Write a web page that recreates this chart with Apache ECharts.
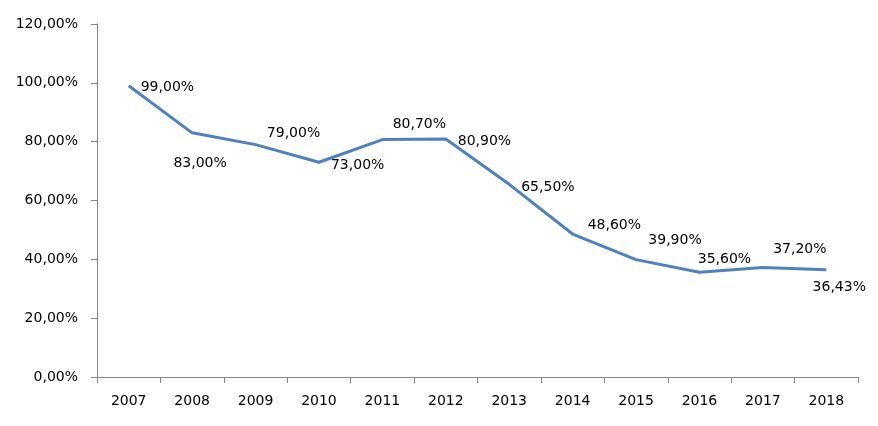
<!DOCTYPE html>
<html><head><meta charset="utf-8">
<script src="https://cdn.jsdelivr.net/npm/echarts@6/dist/echarts.min.js"></script>
<style>html,body{margin:0;padding:0;background:#fff}#c{width:878px;height:426px}</style>
</head><body><div id="c"></div>
<script>
var categories = ['2007','2008','2009','2010','2011','2012','2013','2014','2015','2016','2017','2018'];
var values = [99.00, 83.00, 79.00, 73.00, 80.70, 80.90, 65.50, 48.60, 39.90, 35.60, 37.20, 36.43];
var yTicks = [0, 20, 40, 60, 80, 100, 120];

var labelPositions = ['right','bottom','top','right','top','right','right','right','top','top','top','bottom'];
var labelShifts = [[6,2],[8,18],[38,2],[6,3],[37,-2],[6,2],[6,3],[9,-9],[39,-6],[25,0],[37,-5],[13,5]];

function fmt(v){ return v.toFixed(2).replace('.', ',') + '%'; }

var chart = echarts.init(document.getElementById('c'), null, {renderer:'canvas'});
chart.setOption({
  animation:false,
  backgroundColor:'#fff',
  grid:{left:97, right:20, top:24, bottom:49, containLabel:false},
  xAxis:{
    type:'category', data:categories, boundaryGap:true,
    axisLine:{lineStyle:{color:'#868686', width:1}},
    axisTick:{show:true, length:6, inside:false, alignWithLabel:false, lineStyle:{color:'#868686'}},
    axisLabel:{color:'#000', fontFamily:'DejaVu Sans', fontSize:14, margin:17}
  },
  yAxis:{
    type:'value', min:yTicks[0], max:yTicks[yTicks.length-1], interval:20,
    axisLine:{show:true, lineStyle:{color:'#868686', width:1}},
    axisTick:{show:true, length:6, lineStyle:{color:'#868686'}},
    splitLine:{show:false},
    axisLabel:{color:'#000', fontFamily:'DejaVu Sans', fontSize:14, margin:19, formatter:function(v){return fmt(v);}}
  },
  series:[{
    type:'line', symbol:'circle', symbolSize:2, showSymbol:true,
    itemStyle:{color:'rgba(79,129,189,0)', borderWidth:0},
    lineStyle:{color:'#4f81bd', width:3},
    data: values.map(function(v,i){
      return {value:v, label:{show:true, position:labelPositions[i]}};
    }),
    label:{show:true, color:'#000', fontFamily:'DejaVu Sans', fontSize:14, formatter:function(p){return fmt(p.value);}},
    labelLayout:function(p){
      var s = labelShifts[p.dataIndex] || [0,0];
      return {dx:s[0], dy:s[1], hideOverlap:false};
    }
  }]
});
</script></body></html>
